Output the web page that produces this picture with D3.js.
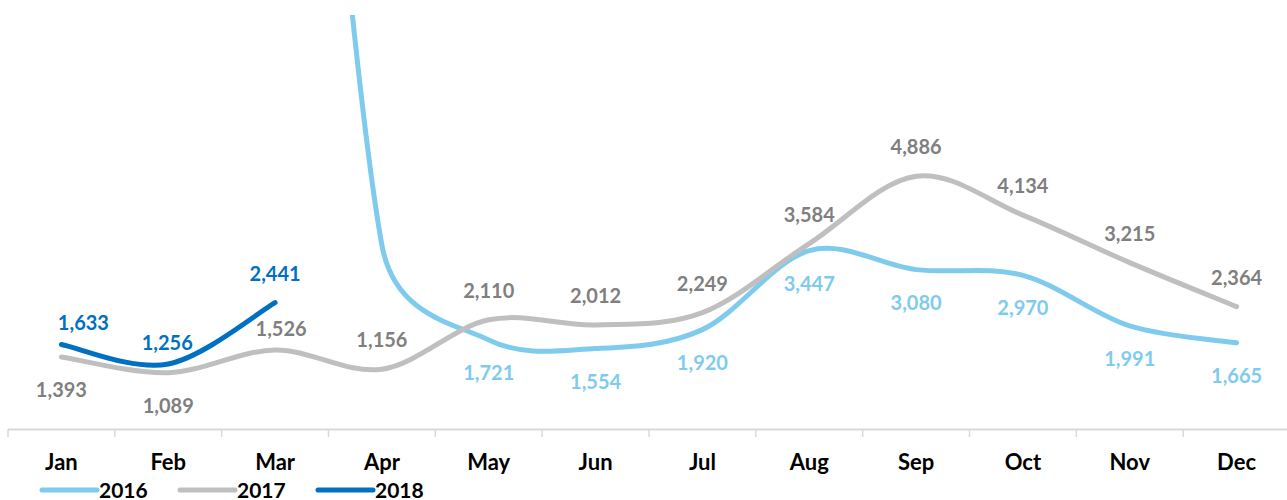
<!DOCTYPE html>
<html><head><meta charset="utf-8">
<script src="https://cdn.jsdelivr.net/npm/d3@7"></script>
<style>body{margin:0;background:#fff}svg{display:block;font-family:Lato,"Open Sans",sans-serif}</style>
</head><body><svg id="c" width="1287" height="500"></svg>
<script>
const months = ["Jan","Feb","Mar","Apr","May","Jun","Jul","Aug","Sep","Oct","Nov","Dec"];
const series2016 = [null,null,24500,3550,1721,1554,1920,3447,3080,2970,1991,1665];
const series2017 = [1393,1089,1526,1156,2110,2012,2249,3584,4886,4134,3215,2364];
const series2018 = [1633,1256,2441,null,null,null,null,null,null,null,null,null];
const seriesNames = ["2016","2017","2018"];
const labelled2016 = ["May","Jun","Jul","Aug","Sep","Oct","Nov","Dec"];
const yDomain = [0, 8000];

const svg = d3.select("#c");
const x = d3.scaleBand().domain(months).range([8, 1290]);
const cx = m => x(m) + x.bandwidth()/2;
const y = d3.scaleLinear().domain(yDomain).range([429, 15]);

// Excel-like smoothed line
function ExcelCurve(ctx){ this._context = ctx; }
ExcelCurve.prototype = {
  areaStart(){}, areaEnd(){},
  lineStart(){ this._pts = []; },
  point(px, py){ this._pts.push([+px, +py]); },
  lineEnd(){
    const p = this._pts, c = this._context, n = p.length;
    if (!n) return;
    const dist = (a,b) => Math.hypot(a[0]-b[0], a[1]-b[1]);
    c.moveTo(p[0][0], p[0][1]);
    if (n === 1) { c.lineTo(p[0][0], p[0][1]); return; }
    for (let i = 0; i < n-1; i++) {
      const p0 = p[i-1] || p[i], p1 = p[i], p2 = p[i+1], p3 = p[i+2] || p[i+1];
      const d12 = dist(p1,p2), d02 = dist(p0,p2), d13 = dist(p1,p3);
      const fa = d02 > 0 ? Math.min(1/6, d12/(2*d02)) : 0;
      const fb = d13 > 0 ? Math.min(1/6, d12/(2*d13)) : 0;
      c.bezierCurveTo(p1[0]+fa*(p2[0]-p0[0]), p1[1]+fa*(p2[1]-p0[1]),
                      p2[0]-fb*(p3[0]-p1[0]), p2[1]-fb*(p3[1]-p1[1]),
                      p2[0], p2[1]);
    }
  }
};
const curveExcel = ctx => new ExcelCurve(ctx);

svg.append("defs").append("clipPath").attr("id","plot")
  .append("rect").attr("x",0).attr("y",15).attr("width",1287).attr("height",420);

// x axis
const axis = svg.append("g");
axis.append("line").attr("x1",8).attr("x2",1290).attr("y1",429.5).attr("y2",429.5)
  .attr("stroke","#d9d9d9").attr("stroke-width",2);
const tickPos = months.map(m => x(m)).concat([x(months[11]) + x.bandwidth()]);
axis.selectAll("line.tick").data(tickPos).enter().append("line").attr("class","tick")
  .attr("x1",d=>d).attr("x2",d=>d).attr("y1",429).attr("y2",437)
  .attr("stroke","#d9d9d9").attr("stroke-width",1.5);
axis.selectAll("text").data(months).enter().append("text")
  .attr("x",d=>cx(d)).attr("y",461).attr("text-anchor","middle").attr("dominant-baseline","central")
  .attr("font-size",22).attr("font-weight",700).attr("fill","#000").text(d=>d);

const defs = [
  {name:"2016", vals:series2016, color:"#7fcbee", label:"#7fcbee", pos:()=>"below", show:m=>labelled2016.includes(m)},
  {name:"2017", vals:series2017, color:"#bfbfbf", label:"#7f7f7f", pos:m=>(m==="Jan"||m==="Feb")?"below":"above", show:()=>true},
  {name:"2018", vals:series2018, color:"#0070c0", label:"#0070c0", pos:()=>"above", show:()=>true}
];
// manual label nudges (dx, dy) as in the original layout
const nudge = {"2018Jan":[22,-22], "2018Feb":[-1,-22], "2017Mar":[6,-22]};

const line = d3.line().defined(d=>d.v!=null).x(d=>cx(d.m)).y(d=>y(d.v)).curve(curveExcel);
const plot = svg.append("g").attr("clip-path","url(#plot)");
defs.forEach(s=>{
  const data = months.map((m,i)=>({m, v:s.vals[i]}));
  plot.append("path").datum(data).attr("d",line).attr("fill","none")
    .attr("stroke",s.color).attr("stroke-width",5).attr("stroke-linecap","round").attr("stroke-linejoin","round");
});
defs.forEach(s=>{
  const data = months.map((m,i)=>({m, v:s.vals[i]})).filter(d=>d.v!=null && s.show(d.m));
  const off = d => {
    const n = nudge[s.name + d.m];
    if (n) return n;
    return [0, s.pos(d.m)==="above" ? -30 : 32];
  };
  svg.append("g").selectAll("text").data(data).enter().append("text")
    .attr("x",d=>cx(d.m) + off(d)[0]).attr("y",d=>y(d.v) + off(d)[1])
    .attr("text-anchor","middle").attr("dominant-baseline","central")
    .attr("font-size",20).attr("font-weight",700).attr("fill",s.label)
    .text(d=>d3.format(",")(d.v));
});

// legend
const lg = svg.append("g");
const legendX = [42, 180, 318];
defs.forEach((s,i)=>{
  lg.append("line").attr("x1",legendX[i]).attr("x2",legendX[i]+55).attr("y1",490).attr("y2",490)
    .attr("stroke",s.color).attr("stroke-width",5).attr("stroke-linecap","round");
  lg.append("text").attr("x",legendX[i]+57).attr("y",489).attr("dominant-baseline","central")
    .attr("font-size",21).attr("font-weight",700).attr("fill","#000").text(seriesNames[i]);
});
</script></body></html>
